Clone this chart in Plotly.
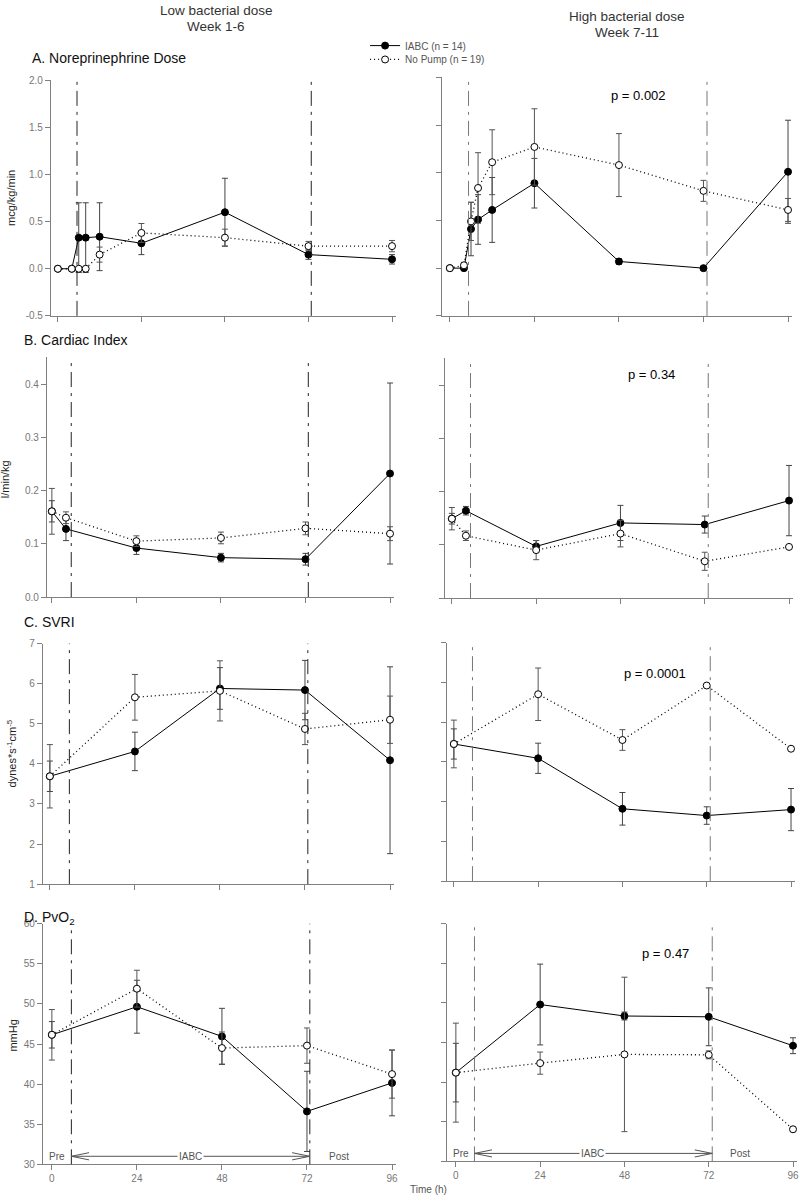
import plotly.graph_objects as go

W, H = 800, 1201

# ── data ──────────────────────────────────────────────────────────────────────
hours_ne = [0, 4, 6, 8, 12, 24, 48, 72, 96]
hours_ci = [0, 4, 24, 48, 72, 96]
hours_4 = [0, 24, 48, 72, 96]

# A. Norepinephrine dose (mcg/kg/min)
iabc_ne_low = [0.0, 0.0, 0.33, 0.33, 0.34, 0.27, 0.60, 0.15, 0.10]
iabc_ne_low_se = [0.01, 0.01, 0.37, 0.37, 0.36, 0.12, 0.36, 0.05, 0.05]
nopump_ne_low = [0.0, 0.0, 0.0, 0.0, 0.15, 0.38, 0.33, 0.24, 0.24]
nopump_ne_low_se = [0.01, 0.01, 0.01, 0.01, 0.08, 0.10, 0.09, 0.05, 0.06]
iabc_ne_high = [0.0, 0.0, 0.41, 0.51, 0.61, 0.89, 0.07, 0.00, 1.01]
iabc_ne_high_se = [0.01, 0.02, 0.28, 0.26, 0.34, 0.26, 0.03, 0.02, 0.54]
nopump_ne_high = [0.0, 0.03, 0.49, 0.84, 1.11, 1.27, 1.08, 0.81, 0.61]
nopump_ne_high_se = [0.01, 0.03, 0.20, 0.37, 0.34, 0.40, 0.33, 0.11, 0.12]

# B. Cardiac index (l/min/kg)
iabc_ci_low = [0.161, 0.128, 0.092, 0.074, 0.071, 0.232]
iabc_ci_low_se = [0.020, 0.022, 0.012, 0.008, 0.011, 0.170]
nopump_ci_low = [0.161, 0.149, 0.105, 0.111, 0.129, 0.119]
nopump_ci_low_se = [0.043, 0.011, 0.010, 0.011, 0.012, 0.013]
iabc_ci_high = [0.149, 0.164, 0.097, 0.141, 0.138, 0.183]
iabc_ci_high_se = [0.010, 0.008, 0.011, 0.033, 0.016, 0.066]
nopump_ci_high = [0.149, 0.117, 0.090, 0.121, 0.069, 0.096]
nopump_ci_high_se = [0.021, 0.009, 0.018, 0.025, 0.017, 0.003]

# C. SVRI
iabc_svri_low = [3.69, 4.31, 5.88, 5.84, 4.09]
iabc_svri_low_se = [0.38, 0.48, 0.52, 0.74, 2.33]
nopump_svri_low = [3.69, 5.66, 5.82, 4.87, 5.10]
nopump_svri_low_se = [0.79, 0.57, 0.75, 0.39, 0.59]
iabc_svri_high = [4.45, 4.09, 2.82, 2.65, 2.80]
iabc_svri_high_se = [0.38, 0.38, 0.41, 0.22, 0.53]
nopump_svri_high = [4.45, 5.70, 4.55, 5.92, 4.33]
nopump_svri_high_se = [0.60, 0.66, 0.26, 0.03, 0.03]

# D. PvO2 (mmHg)
iabc_pvo2_low = [46.15, 49.65, 45.95, 36.6, 40.15]
iabc_pvo2_low_se = [1.65, 3.3, 3.5, 5.0, 4.1]
nopump_pvo2_low = [46.15, 51.9, 44.5, 44.8, 41.25]
nopump_pvo2_low_se = [3.15, 2.3, 2.0, 2.2, 3.0]
iabc_pvo2_high = [41.2, 49.8, 48.35, 48.25, 44.6]
iabc_pvo2_high_se = [3.7, 5.1, 0.5, 3.65, 1.0]
nopump_pvo2_high = [41.2, 42.4, 43.5, 43.45, 34.05]
nopump_pvo2_high_se = [6.25, 1.4, 9.75, 0.5, 0.3]

p_values = ["p = 0.002", "p = 0.34", "p = 0.0001", "p = 0.47"]
panel_titles = ["A. Noreprinephrine Dose", "B. Cardiac Index", "C. SVRI", "D. PvO<sub>2</sub>"]
y_titles = ["mcg/kg/min", "l/min/kg", "dynes*s<sup>-1</sup>cm<sup>-5</sup>", "mmHg"]
x_ticks = [0, 24, 48, 72, 96]
iabc_window = {"low": [5.5, 72.8], "high": [5.3, 73.0]}   # pump start / stop (h)

# ── panel geometry (pixels) ───────────────────────────────────────────────────
# (axis line x, t=0 x, t=96 x, top y, bottom y)
geom = {
    ("A", "low"): (51, 58, 393, 75, 313),
    ("A", "high"): (443, 451, 790, 72, 313),
    ("B", "low"): (47, 52, 391, 355, 597),
    ("B", "high"): (446, 453, 791, 356, 598),
    ("C", "low"): (43, 50, 391, 644, 887),
    ("C", "high"): (448, 455, 793, 643, 884),
    ("D", "low"): (43, 52, 393, 927, 1170),
    ("D", "high"): (448, 457, 795, 927, 1167),
}
yspec = {
    "A": dict(range=[-0.5, 2.0], tickvals=[-0.5, 0, 0.5, 1.0, 1.5, 2.0], fmt="{:.1f}"),
    "B": dict(range=[0, 0.45], tickvals=[0, 0.1, 0.2, 0.3, 0.4], fmt="{:.1f}"),
    "C": dict(range=[1, 7], tickvals=[1, 2, 3, 4, 5, 6, 7], fmt="{:.0f}"),
    "D": dict(range=[30, 60], tickvals=[30, 35, 40, 45, 50, 55, 60], fmt="{:.0f}"),
}

panels = [
    ("A", "low", hours_ne, iabc_ne_low, iabc_ne_low_se, nopump_ne_low, nopump_ne_low_se),
    ("A", "high", hours_ne, iabc_ne_high, iabc_ne_high_se, nopump_ne_high, nopump_ne_high_se),
    ("B", "low", hours_ci, iabc_ci_low, iabc_ci_low_se, nopump_ci_low, nopump_ci_low_se),
    ("B", "high", hours_ci, iabc_ci_high, iabc_ci_high_se, nopump_ci_high, nopump_ci_high_se),
    ("C", "low", hours_4, iabc_svri_low, iabc_svri_low_se, nopump_svri_low, nopump_svri_low_se),
    ("C", "high", hours_4, iabc_svri_high, iabc_svri_high_se, nopump_svri_high, nopump_svri_high_se),
    ("D", "low", hours_4, iabc_pvo2_low, iabc_pvo2_low_se, nopump_pvo2_low, nopump_pvo2_low_se),
    ("D", "high", hours_4, iabc_pvo2_high, iabc_pvo2_high_se, nopump_pvo2_high, nopump_pvo2_high_se),
]

FONT = "Liberation Sans, Arial, sans-serif"
AXIS_GREY = "#808080"
TICK_FONT = dict(size=10, color="#777777", family=FONT)


def fx(px):
    return px / W


def fy(py):
    return 1 - py / H


def label(text, px, py, size, color="#111111", xanchor="center", **kw):
    """Paper-positioned text, anchored explicitly (no 'auto' thirds rule)."""
    return dict(text=text, xref="paper", yref="paper", x=fx(px), y=fy(py),
                xanchor=xanchor, yanchor="middle", showarrow=False,
                font=dict(size=size, color=color, family=FONT), **kw)


fig = go.Figure()
layout = {}
shapes = []
annotations = []

for i, (row, dose, t, iabc, iabc_se, nop, nop_se) in enumerate(panels):
    n = i + 1
    xa, ya = f"x{n}" if n > 1 else "x", f"y{n}" if n > 1 else "y"
    xkey, ykey = f"xaxis{n}" if n > 1 else "xaxis", f"yaxis{n}" if n > 1 else "yaxis"
    ax_px, t0_px, t96_px, top_px, bot_px = geom[(row, dose)]
    scale = (t96_px - t0_px) / 96
    right_px = t96_px + 4
    spec = yspec[row]

    layout[xkey] = dict(
        domain=[fx(ax_px), fx(right_px)],
        range=[(ax_px - t0_px) / scale, 96 + 4 / scale],
        anchor=ya, showline=True, linecolor=AXIS_GREY, linewidth=1,
        ticks="outside", ticklen=5, tickcolor=AXIS_GREY,
        tickvals=x_ticks, showticklabels=(row == "D"),
        tickfont=TICK_FONT, showgrid=False, zeroline=False,
    )
    layout[ykey] = dict(
        domain=[fy(bot_px), fy(top_px)],
        range=spec["range"], anchor=xa, showline=True, linecolor=AXIS_GREY,
        linewidth=1, ticks="outside", ticklen=5, tickcolor=AXIS_GREY,
        tickvals=spec["tickvals"],
        ticktext=[spec["fmt"].format(v) for v in spec["tickvals"]],
        showticklabels=(dose == "low"), tickfont=TICK_FONT,
        showgrid=False, zeroline=False,
    )

    fig.add_trace(go.Scatter(
        x=t, y=iabc, xaxis=xa, yaxis=ya, mode="lines+markers",
        name="IABC (n = 14)", legend="legend", showlegend=(n == 1),
        line=dict(color="black", width=1),
        marker=dict(size=7, color="black", line=dict(color="black", width=1)),
        error_y=dict(type="data", array=iabc_se, color="#444444", thickness=1, width=3),
    ))
    fig.add_trace(go.Scatter(
        x=t, y=nop, xaxis=xa, yaxis=ya, mode="lines+markers",
        name="No Pump (n = 19)", legend="legend2", showlegend=(n == 1),
        line=dict(color="black", width=1.3, dash="1px,3px"),
        marker=dict(size=7, color="white", line=dict(color="black", width=1)),
        error_y=dict(type="data", array=nop_se, color="#555555", thickness=1, width=3),
    ))

    # pump start / stop markers
    vcol = "#222222" if dose == "low" else "#777777"
    for tv in iabc_window[dose]:
        shapes.append(dict(
            type="line", xref=xa, yref=f"{ya} domain", x0=tv, x1=tv, y0=0, y1=1,
            line=dict(color=vcol, width=1, dash="longdashdot"), layer="above",
        ))

    if dose == "high":
        k = "ABCD".index(row)
        p_px = [(640, 90), (653, 372), (657, 674), (667, 957)][k]
        annotations.append(label(p_values[k], p_px[0], p_px[1], 13, "black"))

    if row == "D":
        t_start, t_stop = iabc_window[dose]
        y_arrow = 31.0
        shapes.append(dict(type="line", xref=xa, yref=ya, x0=t_start, x1=t_stop,
                           y0=y_arrow, y1=y_arrow, line=dict(color="#555555", width=1)))
        for tip, back in ((t_start, t_start + 5), (t_stop, t_stop - 5)):
            shapes.append(dict(
                type="path", xref=xa, yref=ya,
                path=f"M {back},{y_arrow + 0.45} L {tip},{y_arrow} L {back},{y_arrow - 0.45}",
                line=dict(color="#555555", width=1),
            ))
        for txt, tx, bg in (("Pre", 1.4, None), ("IABC", 39.0, "white"), ("Post", 81.0, None)):
            ann = dict(text=txt, xref=xa, yref=ya, x=tx, y=y_arrow, showarrow=False,
                       xanchor="center", yanchor="middle",
                       font=dict(size=10, color="#555555", family=FONT), borderpad=1)
            if bg:
                ann["bgcolor"] = bg
            annotations.append(ann)

# panel titles and y-axis titles
title_px = [(30, 53), (22, 337), (22, 622), (22, 921)]
ytitle_px = [(11, 194), (5, 478), (12, 755), (13, 1040)]
for k in range(4):
    annotations.append(label(panel_titles[k], title_px[k][0], title_px[k][1], 14,
                             xanchor="left"))
    annotations.append(label(y_titles[k], ytitle_px[k][0], ytitle_px[k][1], 11,
                             "#222222", textangle=-90))

# column headers
annotations += [
    label("Low bacterial dose", 217, 5, 13.5, "#333333"),
    label("Week 1-6", 217, 21, 13.5, "#333333"),
    label("High bacterial dose", 629, 11, 13.5, "#333333"),
    label("Week 7-11", 629, 27, 13.5, "#333333"),
    label("Time (h)", 409, 1195, 10, "#555555", xanchor="left"),
]

legend_style = dict(
    xanchor="left", yanchor="middle", font=dict(size=10, color="#555555", family=FONT),
    bgcolor="rgba(0,0,0,0)", itemwidth=30,
)
fig.update_layout(
    width=W, height=H,
    margin=dict(l=0, r=0, t=0, b=0),
    paper_bgcolor="white", plot_bgcolor="white",
    font=dict(family=FONT),
    showlegend=True,
    legend=dict(x=fx(366), y=fy(40), **legend_style),
    legend2=dict(x=fx(366), y=fy(54), **legend_style),
    shapes=shapes,
    annotations=annotations,
    **layout,
)

# pin the figure to the window's top-left corner so page margins don't shift it
pin = (
    "document.body.style.margin = '0';"
    "var gd = document.getElementsByClassName('plotly-graph-div')[0];"
    "gd.style.position = 'fixed'; gd.style.left = '0'; gd.style.top = '0';"
)
fig.write_html("out.html", config={"displayModeBar": False}, post_script=pin)
